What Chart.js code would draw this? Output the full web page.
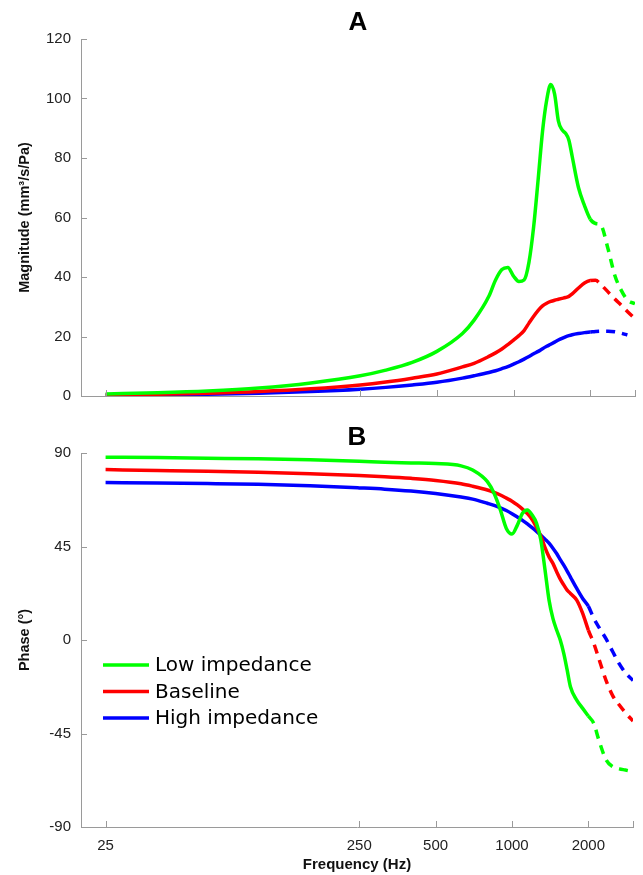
<!DOCTYPE html>
<html>
<head>
<meta charset="utf-8">
<script src="https://cdn.jsdelivr.net/npm/chart.js@4.4.1/dist/chart.umd.min.js"></script>
<style>
  html, body { margin: 0; padding: 0; background: #fff; }
  body { width: 643px; height: 875px; position: relative; overflow: hidden; }
  canvas { position: absolute; left: 0; }
  #cA { top: 0; }
  #cB { top: 415px; }
</style>
</head>
<body>
<canvas id="cA" width="643" height="415"></canvas>
<canvas id="cB" width="643" height="460"></canvas>
<script>
// ---------- DATA ----------
const frequencies = [25, 40, 63, 100, 160, 250, 315, 400, 500, 630, 700, 800, 850, 900, 950, 1000, 1050, 1100, 1150, 1200, 1250, 1300, 1350, 1400, 1450, 1500, 1550, 1600, 1650, 1700, 1800, 1900, 2000, 2100, 2200, 2350, 2500, 2650, 2800, 3000];

const magnitudeLow = [0.7, 1.1, 1.7, 2.7, 4.4, 6.8, 8.7, 11.3, 15.0, 21.0, 25.5, 33.5, 39.0, 42.5, 43.2, 40.3, 38.5, 39.0, 45.0, 57.0, 73.0, 89.0, 99.5, 104.7, 101.5, 92.5, 89.5, 88.3, 86.0, 80.5, 70.0, 64.0, 59.5, 58.0, 57.5, 49.5, 40.5, 35.5, 32.3, 31.0];
const magnitudeBaseline = [0.4, 0.6, 0.95, 1.5, 2.4, 3.7, 4.7, 6.0, 7.4, 9.8, 11.0, 13.3, 14.5, 15.8, 17.3, 18.8, 20.3, 22.0, 24.5, 26.8, 28.8, 30.3, 31.2, 31.8, 32.2, 32.5, 32.8, 33.1, 33.5, 34.3, 36.3, 38.0, 38.8, 38.9, 37.5, 35.0, 32.6, 30.5, 28.4, 26.0];
const magnitudeHigh = [0.25, 0.4, 0.6, 0.95, 1.5, 2.3, 2.9, 3.7, 4.6, 6.0, 6.8, 7.9, 8.5, 9.2, 9.9, 10.7, 11.5, 12.4, 13.3, 14.2, 15.0, 15.9, 16.7, 17.4, 18.1, 18.8, 19.4, 19.9, 20.3, 20.6, 21.0, 21.3, 21.5, 21.7, 21.8, 21.8, 21.6, 21.1, 20.5, null];

const phaseLow = [88.0, 87.8, 87.5, 87.2, 86.7, 86.0, 85.5, 85.2, 84.9, 83.8, 81.8, 76.2, 70.6, 62.6, 53.7, 51.0, 55.3, 61.0, 62.6, 60.2, 56.2, 48.0, 33.7, 19.2, 10.4, 4.8, 0.0, -6.4, -14.4, -22.5, -28.9, -32.9, -36.6, -40.1, -48.1, -57.7, -61.0, -62.0, -62.6, -63.4];
const phaseBaseline = [82.0, 81.6, 81.2, 80.7, 80.0, 79.2, 78.6, 77.8, 76.8, 75.2, 74.0, 72.2, 71.1, 69.8, 68.3, 66.8, 65.0, 63.0, 60.8, 58.0, 54.2, 50.0, 44.5, 40.0, 36.9, 32.9, 29.3, 26.5, 24.0, 22.4, 19.2, 12.8, 4.8, -1.5, -9.0, -19.5, -27.0, -31.3, -35.0, -39.0];
const phaseHigh = [75.8, 75.6, 75.3, 74.9, 74.2, 73.2, 72.6, 71.7, 70.5, 68.8, 67.8, 65.8, 64.8, 63.6, 62.3, 60.8, 59.2, 57.6, 55.9, 54.1, 52.3, 50.4, 48.5, 46.6, 44.2, 41.6, 38.7, 36.0, 33.2, 30.3, 24.8, 20.0, 16.3, 10.5, 6.2, 0.5, -5.8, -11.5, -15.8, -19.5];

const seriesNames = ['Low impedance', 'Baseline', 'High impedance'];
const seriesColors = ['#00ff00', '#ff0000', '#0000ff'];

const xTickValues = [25, 250, 500, 1000, 2000, 3000];
const xTickLabels = ['25', '250', '500', '1000', '2000', ''];
const magnitudeTicks = [0, 20, 40, 60, 80, 100, 120];
const phaseTicks = [-90, -45, 0, 45, 90];

const dashFrom = 2000; // measured part ends, extrapolated part dashed

// ---------- HELPERS ----------
const FONT = "'Liberation Sans', Arial, Helvetica, sans-serif";
const AXIS_GREY = '#9a9a9a';

function makeDatasets(arrays) {
  return arrays.map((arr, k) => ({
    label: seriesNames[k],
    data: frequencies.map((f, i) => ({ x: f, y: arr[i] })),
    borderColor: seriesColors[k],
    backgroundColor: seriesColors[k],
    borderWidth: 3.5,
    pointRadius: 0,
    pointHoverRadius: 0,
    fill: false,
    cubicInterpolationMode: 'monotone',
    spanGaps: false,
    segment: {
      borderDash: ctx => (ctx.p0.parsed.x >= dashFrom ? [9, 7] : undefined)
    }
  }));
}

const inwardTicks = {
  id: 'inwardTicks',
  afterDraw(chart) {
    const { ctx, chartArea, scales } = chart;
    const x = scales.x, y = scales.y;
    ctx.save();
    ctx.strokeStyle = AXIS_GREY;
    ctx.lineWidth = 1;
    ctx.beginPath();
    x.ticks.forEach(t => {
      const px = Math.round(x.getPixelForValue(t.value)) + 0.5;
      ctx.moveTo(px, chartArea.bottom);
      ctx.lineTo(px, chartArea.bottom - 6);
    });
    y.ticks.forEach(t => {
      const py = Math.round(y.getPixelForValue(t.value)) + 0.5;
      ctx.moveTo(chartArea.left, py);
      ctx.lineTo(chartArea.left + 6, py);
    });
    ctx.stroke();
    ctx.restore();
  }
};

const panelTitle = {
  id: 'panelTitle',
  afterDraw(chart, args, opts) {
    const { ctx, chartArea } = chart;
    ctx.save();
    ctx.font = "bold 26px " + FONT;
    ctx.fillStyle = '#000';
    ctx.textAlign = 'center';
    ctx.textBaseline = 'middle';
    ctx.fillText(opts.text, (chartArea.left + chartArea.right) / 2, opts.y);
    ctx.restore();
  }
};

const insideLegend = {
  id: 'insideLegend',
  afterDraw(chart, args, opts) {
    if (!opts || !opts.show) return;
    const { ctx, chartArea } = chart;
    ctx.save();
    ctx.font = "20px 'DejaVu Sans', sans-serif";
    ctx.textBaseline = 'middle';
    ctx.fillStyle = '#000';
    chart.data.datasets.forEach((ds, i) => {
      const yy = chartArea.top + 212 + i * 26.5;
      ctx.strokeStyle = ds.borderColor;
      ctx.lineWidth = 3.5;
      ctx.beginPath();
      ctx.moveTo(chartArea.left + 22, yy);
      ctx.lineTo(chartArea.left + 68, yy);
      ctx.stroke();
      ctx.fillText(ds.label, chartArea.left + 74, yy + 1);
    });
    ctx.restore();
  }
};

function xScale(showLabels, axisHeight) {
  return {
    type: 'logarithmic',
    min: 20,
    max: 3000,
    border: { display: true, color: AXIS_GREY, width: 1 },
    grid: { display: false, drawTicks: false },
    afterBuildTicks: s => { s.ticks = xTickValues.map(v => ({ value: v })); },
    afterFit: s => { s.height = axisHeight; },
    ticks: {
      display: showLabels,
      autoSkip: false,
      maxRotation: 0,
      padding: 10,
      color: '#222',
      font: { family: FONT, size: 15 },
      callback: (v, i) => xTickLabels[i]
    },
    title: {
      display: showLabels,
      text: 'Frequency (Hz)',
      color: '#111',
      font: { family: FONT, size: 15, weight: 'bold' },
      padding: { top: 0, bottom: 1 }
    }
  };
}

function yScale(min, max, tickVals, titleText) {
  return {
    type: 'linear',
    min, max,
    border: { display: true, color: AXIS_GREY, width: 1 },
    grid: { display: false, drawTicks: false },
    afterBuildTicks: s => { s.ticks = tickVals.map(v => ({ value: v })); },
    afterFit: s => { s.width = 81; },
    ticks: {
      padding: 10,
      color: '#222',
      font: { family: FONT, size: 15 }
    },
    title: {
      display: true,
      text: titleText,
      color: '#111',
      font: { family: FONT, size: 14.5, weight: 'bold' },
      padding: { top: 16, bottom: 0 }
    }
  };
}

function makeChart(id, arrays, opts) {
  return new Chart(document.getElementById(id), {
    type: 'line',
    data: { datasets: makeDatasets(arrays) },
    options: {
      responsive: false,
      animation: false,
      devicePixelRatio: 1,
      layout: { padding: { left: 0, right: 8, top: opts.padTop, bottom: 0 } },
      scales: {
        x: xScale(opts.xLabels, opts.xHeight),
        y: yScale(opts.yMin, opts.yMax, opts.yTicks, opts.yTitle)
      },
      plugins: {
        legend: { display: false },
        tooltip: { enabled: false },
        title: { display: false },
        panelTitle: { text: opts.title, y: opts.titleY },
        insideLegend: { show: opts.legend }
      }
    },
    plugins: [inwardTicks, panelTitle, insideLegend]
  });
}

makeChart('cA', [magnitudeLow, magnitudeBaseline, magnitudeHigh], {
  title: 'A', titleY: 23, padTop: 39,
  xLabels: false, xHeight: 8,
  yMin: 0, yMax: 120, yTicks: magnitudeTicks, yTitle: 'Magnitude (mm³/s/Pa)',
  legend: false
});

makeChart('cB', [phaseLow, phaseBaseline, phaseHigh], {
  title: 'B', titleY: 23, padTop: 38,
  xLabels: true, xHeight: 48,
  yMin: -90, yMax: 90, yTicks: phaseTicks, yTitle: 'Phase (°)',
  legend: true
});
</script>
</body>
</html>
